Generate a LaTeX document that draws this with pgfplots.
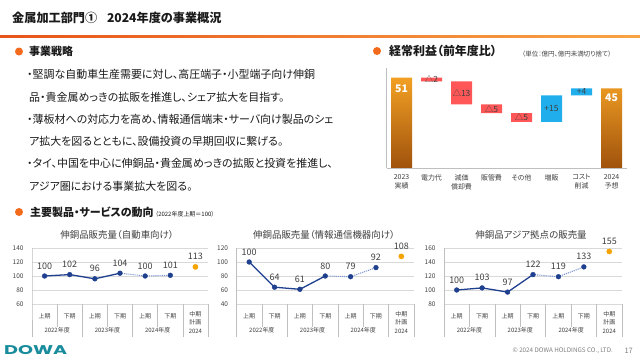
\documentclass[border=0pt]{standalone}
\usepackage{fontspec}
\setmainfont{Noto Sans CJK JP}[RawFeature=+palt]
\newfontfamily\logofont{Poppins}
\usepackage{graphicx}
\usepackage{pgfplots}
\pgfplotsset{compat=1.18}
\definecolor{orA}{HTML}{E8541A}
\definecolor{orB}{HTML}{F8A445}
\definecolor{dotor}{HTML}{F26B1D}
\definecolor{txt}{HTML}{1A1A1A}
\definecolor{barTop}{HTML}{F2A024}
\definecolor{barBot}{HTML}{A0520C}
\definecolor{wfred}{HTML}{FF5757}
\definecolor{wfblue}{HTML}{20AEEC}
\definecolor{navy}{HTML}{1F3F8F}
\definecolor{lblue}{HTML}{7F98CF}
\definecolor{ptor}{HTML}{F5A300}
\definecolor{gridc}{HTML}{D9D9D9}
\definecolor{axc}{HTML}{BFBFBF}
\definecolor{lab}{HTML}{404040}
\definecolor{dowa}{HTML}{188C9C}
\definecolor{foot}{HTML}{808080}
\tikzset{tl/.style={font=\fontsize{6}{7}\selectfont, text=lab, inner sep=0},
  wl/.style={font=\fontsize{8.5}{9}\selectfont, text=lab},
  bl/.style={anchor=west, inner sep=0, font=\fontsize{11}{12}\selectfont, text=txt}}
\newcommand{\cattab}[2]{%
 \draw[axc, line width=0.6pt] (axis cs:-0.5,#2) -- (axis cs:-0.5,#1) -- ++(0pt,-33bp);
 \draw[axc, line width=0.6pt] (axis cs:0.5,#1) -- ++(0pt,-23bp) (axis cs:2.5,#1) -- ++(0pt,-23bp) (axis cs:4.5,#1) -- ++(0pt,-23bp)
   (axis cs:1.5,#1) -- ++(0pt,-33bp) (axis cs:3.5,#1) -- ++(0pt,-33bp) (axis cs:5.5,#1) -- ++(0pt,-33bp) (axis cs:6.5,#1) -- ++(0pt,-33bp);
 \node[tl, yshift=-12.5bp] at (axis cs:0,#1) {上期};
 \node[tl, yshift=-12.5bp] at (axis cs:1,#1) {下期};
 \node[tl, yshift=-12.5bp] at (axis cs:2,#1) {上期};
 \node[tl, yshift=-12.5bp] at (axis cs:3,#1) {下期};
 \node[tl, yshift=-12.5bp] at (axis cs:4,#1) {上期};
 \node[tl, yshift=-12.5bp] at (axis cs:5,#1) {下期};
 \node[tl, yshift=-26.5bp] at (axis cs:0.5,#1) {2022年度};
 \node[tl, yshift=-26.5bp] at (axis cs:2.5,#1) {2023年度};
 \node[tl, yshift=-26.5bp] at (axis cs:4.5,#1) {2024年度};
 \node[tl, yshift=-10bp] at (axis cs:6,#1) {中期};
 \node[tl, yshift=-18.5bp] at (axis cs:6,#1) {計画};
 \node[tl, yshift=-27bp] at (axis cs:6,#1) {2024};
}
\pgfplotsset{
 lc/.style={anchor=south west, scale only axis, height=56bp, xmin=-0.5, xmax=6.5, xtick=\empty,
   ymajorgrids, grid style={gridc, line width=0.6pt}, axis line style={draw=none}, major tick length=0,
   yticklabel style={font=\fontsize{6.5}{7}\selectfont, text=lab, xshift=-5bp},
   /pgf/number format/assume math mode=true, clip=false},
 nv/.style={only marks, mark=*, mark size=2.4bp, color=navy, nodes near coords,
   every node near coord/.append style={anchor=base, yshift=7bp, font=\fontsize{9}{10}\selectfont, text=lab}},
 po/.style={only marks, mark=*, mark size=2.6bp, color=ptor, nodes near coords,
   every node near coord/.append style={anchor=base, yshift=7bp, font=\fontsize{9}{10}\selectfont, text=lab}},
 wf/.style={at={(386.5bp,192bp)}, anchor=south west, scale only axis, width=240bp, height=100bp,
   xmin=-0.5, xmax=7.5, ymin=0, ymax=56.5, bar width=21bp, clip=false},
}
\begin{document}
\begin{tikzpicture}[x=1bp,y=1bp]
\useasboundingbox (0,0) rectangle (640,360);
\fill[white] (0,0) rectangle (640,360);
% title
\node[anchor=west, inner sep=0, font=\fontsize{12.2}{14}\selectfont\bfseries, text=txt] at (12,342) {金属加工部門①\hspace{0.8em}2024年度の事業概況};
\shade[left color=orA, right color=orB] (0,322.5) rectangle (640,325);
% strategy
\fill[dotor] (19,308.5) circle (4);
\node[anchor=west, inner sep=0, font=\fontsize{11}{13}\selectfont\bfseries, text=txt] at (29,308.5) {事業戦略};
\node[bl] at (27,286) {・堅調な自動車生産需要に対し、高圧端子・小型端子向け伸銅};
\node[bl] at (29,263) {品・貴金属めっきの拡販を推進し、シェア拡大を目指す。};
\node[bl] at (27,241) {・薄板材への対応力を高め、情報通信端末・サーバ向け製品のシェ};
\node[bl] at (29,219) {ア拡大を図るとともに、設備投資の早期回収に繋げる。};
\node[bl] at (27,197) {・タイ、中国を中心に伸銅品・貴金属めっきの拡販と投資を推進し、};
\node[bl] at (29,174) {アジア圏における事業拡大を図る。};
% waterfall title
\fill[dotor] (377,309) circle (4);
\node[anchor=west, inner sep=0, font=\fontsize{12}{13}\selectfont\bfseries, text=txt] at (389,309) {経常利益（前年度比）};
\node[anchor=west, inner sep=0, font=\fontsize{6.5}{7}\selectfont, text=lab] at (522,306) {（単位：億円、億円未満切り捨て）};
% waterfall floating bars
\begin{axis}[wf, ybar stacked, axis lines=none, ticks=none]
\addplot[draw=none, fill=none] coordinates {(0,0) (1,49) (2,36) (3,31) (4,26) (5,26) (6,41) (7,0)};
\addplot[draw=none, fill=wfred] coordinates {(0,0) (1,2) (2,13) (3,5) (4,5) (5,0) (6,0) (7,0)};
\addplot[draw=none, fill=wfblue] coordinates {(0,0) (1,0) (2,0) (3,0) (4,0) (5,15) (6,4) (7,0)};
\end{axis}
% waterfall totals, axes, labels
\begin{axis}[wf, ybar, bar shift=0pt,
  axis x line*=bottom, axis y line*=left, axis line style={axc, line width=0.8pt, -},
  ytick=\empty, xtick={0,...,7}, major tick length=0,
  xticklabels={{2023\\実績},{電力代},{減価\\償却費},{販管費},{その他},{増販},{コスト\\削減},{2024\\予想}},
  xticklabel style={align=center, font=\fontsize{7}{9}\selectfont, text=lab, yshift=-3bp}]
\addplot[draw=none, top color=barTop, bottom color=barBot] coordinates {(0,51) (7,45)};
\node[font=\fontsize{10.5}{11}\selectfont\bfseries, text=white] at (axis cs:0,44.6) {51};
\node[font=\fontsize{10.5}{11}\selectfont\bfseries, text=white] at (axis cs:7,39.5) {45};
\node[wl] at (axis cs:1,50) {△2};
\node[wl] at (axis cs:2,42.5) {△13};
\node[wl] at (axis cs:3,33.5) {△5};
\node[wl] at (axis cs:4,28.5) {△5};
\node[wl] at (axis cs:5,33.5) {+15};
\node[wl] at (axis cs:6,43) {+4};
\end{axis}
% bottom section
\fill[dotor] (19,148) circle (4);
\node[anchor=base west, inner sep=0, text=txt] at (30,144) {{\bfseries\fontsize{11}{13}\selectfont 主要製品・サービスの動向}\,{\fontsize{6}{7}\selectfont （2022年度上期＝100）}};
\node[font=\fontsize{9.5}{10}\selectfont, text=lab, inner sep=0] at (117,125) {伸銅品販売量（自動車向け）};
\node[font=\fontsize{9.5}{10}\selectfont, text=lab, inner sep=0] at (324,125) {伸銅品販売量（情報通信機器向け）};
\node[font=\fontsize{9.5}{10}\selectfont, text=lab, inner sep=0] at (531,125) {伸銅品アジア拠点の販売量};
% chart 1
\begin{axis}[lc, at={(32bp,56bp)}, width=176bp, ymin=60, ymax=140, ytick={60,80,...,140}]
\addplot[lblue, densely dotted, line width=1.1pt] coordinates {(3,104) (4,100) (5,101)};
\addplot[navy, line width=1.3pt] coordinates {(0,100) (1,102) (2,96) (3,104)};
\addplot[nv] coordinates {(0,100) (1,102) (2,96) (3,104) (4,100) (5,101)};
\addplot[po] coordinates {(6,113)};
\cattab{60}{140}
\end{axis}
% chart 2
\begin{axis}[lc, at={(236.5bp,56bp)}, width=177.5bp, ymin=40, ymax=120, ytick={40,60,...,120}]
\addplot[lblue, densely dotted, line width=1.1pt] coordinates {(3,80) (4,79) (5,92)};
\addplot[navy, line width=1.3pt] coordinates {(0,100) (1,64) (2,61) (3,80)};
\addplot[nv] coordinates {(0,100) (1,64) (2,61) (3,80) (4,79) (5,92)};
\addplot[po] coordinates {(6,108)};
\cattab{40}{120}
\end{axis}
% chart 3
\begin{axis}[lc, at={(444bp,56bp)}, width=178bp, ymin=80, ymax=160, ytick={80,100,...,160}]
\addplot[lblue, densely dotted, line width=1.1pt] coordinates {(3,122) (4,119) (5,133)};
\addplot[navy, line width=1.3pt] coordinates {(0,100) (1,103) (2,97) (3,122)};
\addplot[nv] coordinates {(0,100) (1,103) (2,97) (3,122) (4,119) (5,133)};
\addplot[po] coordinates {(6,155)};
\cattab{80}{160}
\end{axis}
% footer
\node[anchor=west, inner sep=0, text=dowa] at (4,10) {\resizebox{63bp}{9bp}{\logofont\bfseries DOWA}};
\node[anchor=east, inner sep=0, font=\fontsize{6.3}{7}\selectfont, text=foot] at (613,9) {© 2024 DOWA HOLDINGS CO., LTD.};
\node[anchor=east, inner sep=0, font=\fontsize{7.5}{8}\selectfont, text=foot] at (633,9.5) {17};
\end{tikzpicture}
\end{document}
